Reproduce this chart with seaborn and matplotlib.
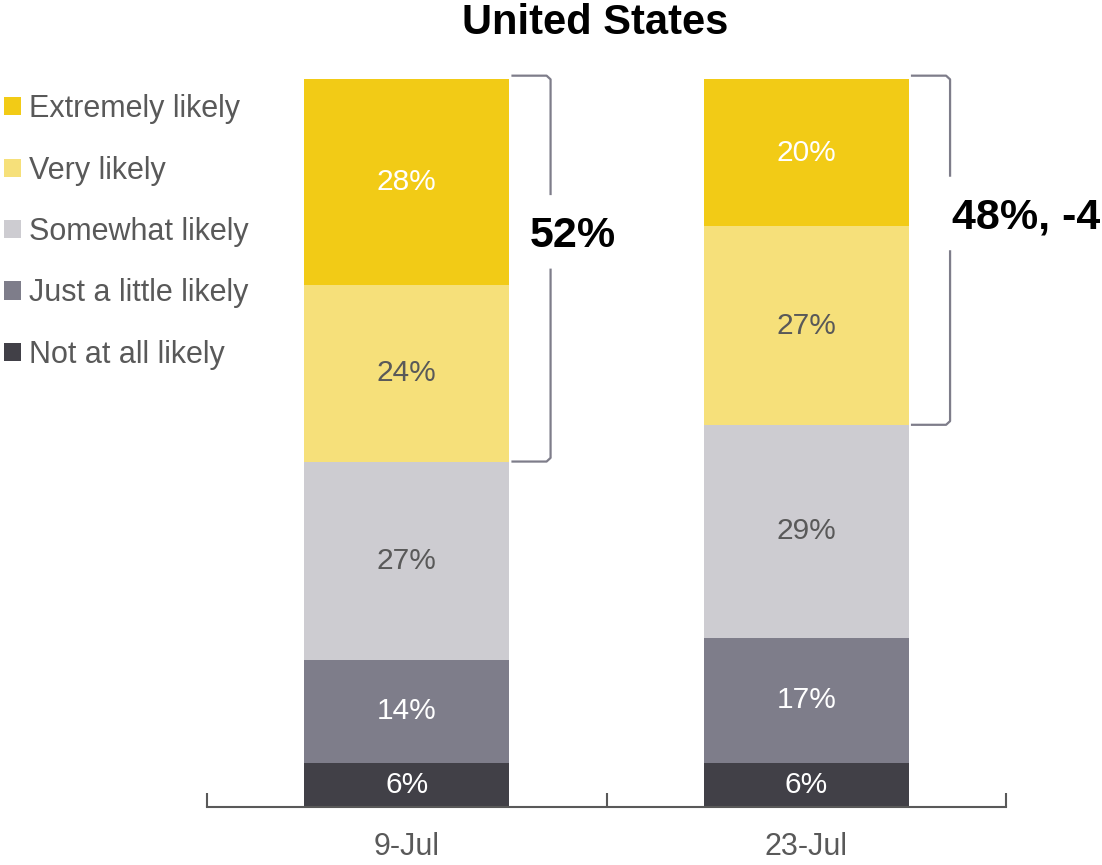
import matplotlib
matplotlib.use("Agg")
import matplotlib.pyplot as plt
import seaborn as sns
import numpy as np
from matplotlib.patches import Patch

# data
dates = ["9-Jul", "23-Jul"]
categories = ["Not at all likely", "Just a little likely", "Somewhat likely",
              "Very likely", "Extremely likely"]
not_at_all = [6, 6]
just_little = [14, 17]
somewhat = [27, 29]
very = [24, 27]
extremely = [28, 20]
bracket_labels = ["52%", "48%, -4"]

series = [not_at_all, just_little, somewhat, very, extremely]
colors = ["#414047", "#7E7D8A", "#CDCCD1", "#F6E07A", "#F2CB16"]
text_colors = ["white", "white", "#595959", "#595959", "white"]

sns.set_style("white")
plt.rcParams["font.family"] = ["Liberation Sans", "DejaVu Sans"]

fig = plt.figure(figsize=(11.02, 8.65), dpi=100)
ax = fig.add_axes([207 / 1102, (865 - 807) / 865, 799 / 1102, (807 - 72) / 865])

bottom = np.zeros(len(dates))
for vals, c, tc in zip(series, colors, text_colors):
    sns.barplot(x=dates, y=vals, bottom=bottom, color=c, saturation=1,
                width=0.5125, errorbar=None, ax=ax, linewidth=0)
    cont = ax.containers[-1]
    ax.bar_label(cont, labels=[f"{v}%" for v in vals], label_type="center",
                 color=tc, fontsize=21.5)
    bottom += np.array(vals)

ax.set_xlim(-0.5, len(dates) - 0.5)
ax.set_ylim(0, 100)

# brackets around top-two boxes
top2_low = np.array(not_at_all) + np.array(just_little) + np.array(somewhat)
totals = bottom
text_x = [0.307, 0.365]
for i, lab in enumerate(bracket_labels):
    x0 = i + 0.262
    x1 = i + 0.36
    lo = top2_low[i]
    hi = totals[i] + 0.5
    mid = (lo + hi) / 2 + 5
    ax.plot([x0, x1 - 0.01, x1, x1], [hi, hi, hi - 0.5, mid + 5],
            color="#7E7D8A", lw=1.6, clip_on=False, solid_capstyle="butt")
    ax.plot([x1, x1, x1 - 0.01, x0], [mid - 5, lo + 0.5, lo, lo],
            color="#7E7D8A", lw=1.6, clip_on=False, solid_capstyle="butt")
    ax.text(i + text_x[i], mid - 0.5, lab, fontsize=31, fontweight="bold",
            color="black", ha="left", va="center", clip_on=False)

for s in ["left", "top", "right"]:
    ax.spines[s].set_visible(False)
ax.spines["bottom"].set_color("#595959")
ax.spines["bottom"].set_linewidth(1.5)
ax.set_yticks([])
ax.set_xticks(range(len(dates)))
ax.set_xticklabels(dates)
ax.set_xticks([-0.5, 0.5, 1.5], minor=True)
ax.tick_params(axis="x", which="major", length=0, pad=18, labelsize=22,
               labelcolor="#595959")
ax.tick_params(axis="x", which="minor", direction="in", length=10, width=1.5,
               color="#595959", bottom=True)
ax.set_xlabel("")
ax.set_ylabel("")

fig.text(595 / 1102, 1 - 23 / 865, "United States", fontsize=30,
         fontweight="bold", color="black", ha="center", va="center")

handles = [Patch(facecolor=c, edgecolor="none") for c in colors[::-1]]
fig.legend(handles, categories[::-1], loc="center left",
           bbox_to_anchor=(4 / 1102, 1 - 232 / 865), frameon=False,
           fontsize=22, labelcolor="#595959", handlelength=0.55,
           handleheight=0.55, handletextpad=0.26, labelspacing=1.03,
           borderpad=0, borderaxespad=0)

fig.savefig("out.png", dpi=100)
